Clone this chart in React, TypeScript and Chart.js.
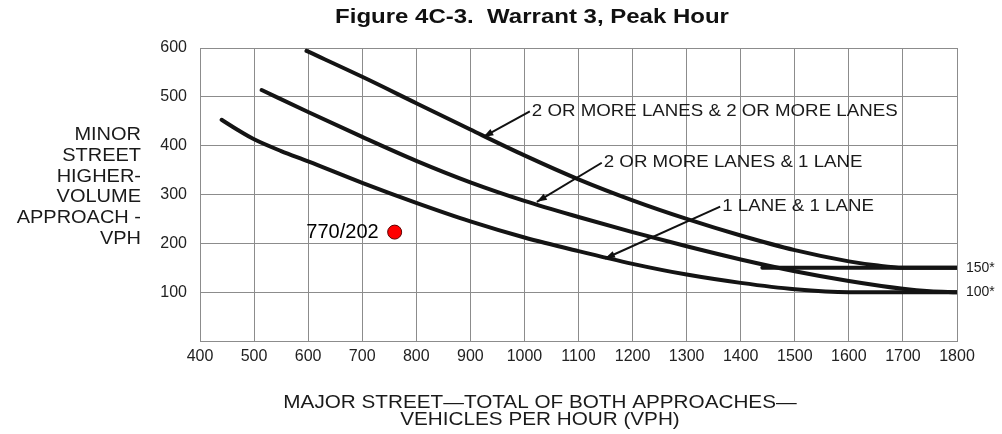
import React, { useEffect, useRef } from "react";
import { Chart, registerables } from "chart.js";

Chart.register(...registerables);

// ---------- data ----------
const titleText = "Figure 4C-3.  Warrant 3, Peak Hour";
const yTitleLines = ["MINOR", "STREET", "HIGHER-", "VOLUME", "APPROACH -", "VPH"];
const xTitleLines = ["MAJOR STREET\u2014TOTAL OF BOTH APPROACHES\u2014", "VEHICLES PER HOUR (VPH)"];

const xMin = 400;
const xMax = 1800;
const xStep = 100;
const yMin = 0;
const yMax = 600;
const yStep = 100;
const hiddenYTick = 0;

// 2 OR MORE LANES & 2 OR MORE LANES
const twoTwoX = [597, 700, 800, 900, 1000, 1100, 1200, 1300, 1400, 1500, 1600, 1650, 1700, 1800];
const twoTwoY = [594, 541, 487, 433, 380, 331, 288, 250, 216, 186, 163, 155, 150, 150];

// 2 OR MORE LANES & 1 LANE
const twoOneX = [514, 600, 700, 800, 900, 1000, 1100, 1200, 1300, 1400, 1500, 1600, 1700, 1750, 1800];
const twoOneY = [514, 469, 418, 369, 325, 287, 254, 223, 194, 167, 143, 123, 107, 102, 100];

// 1 LANE & 1 LANE
const oneOneX = [440, 470, 500, 550, 600, 700, 800, 900, 1000, 1100, 1200, 1300, 1400, 1500, 1600, 1700, 1800];
const oneOneY = [453, 432, 413, 389, 368, 324, 283, 245, 212, 184, 158, 136, 119, 106, 100, 100, 100];

// 150* lower threshold line
const floor150X = [1440, 1800];
const floor150Y = [150, 150];

// study point
const studyX = [760];
const studyY = [223];
const studyLabel = "770/202";

const curveLabels = ["2 OR MORE LANES & 2 OR MORE LANES", "2 OR MORE LANES & 1 LANE", "1 LANE & 1 LANE"];
// [tipX, tipY, tailX, tailY] in data units
const curveArrows = [
  [924, 418, 1010, 470],
  [1023, 285, 1143, 365],
  [1149, 169, 1362, 275],
];
const thresholdLabels = ["150*", "100*"];
const thresholdValues = [150, 100];

const FONT = "'Liberation Sans', Arial, Helvetica, sans-serif";

function pts(xs: number[], ys: number[]) {
  return xs.map((x, i) => ({ x, y: ys[i] }));
}

function drawText(
  ctx: CanvasRenderingContext2D,
  text: string,
  x: number,
  y: number,
  font: string,
  align: CanvasTextAlign,
  sx: number,
  color = "#1a1a1a"
) {
  ctx.save();
  ctx.font = font;
  ctx.fillStyle = color;
  ctx.textAlign = align;
  ctx.textBaseline = "middle";
  ctx.translate(x, y);
  ctx.scale(sx, 1);
  ctx.fillText(text, 0, 0);
  ctx.restore();
}

const annotationPlugin = {
  id: "figureAnnotations",
  afterDraw(chart: any) {
    const ctx: CanvasRenderingContext2D = chart.ctx;
    const xs = chart.scales.x;
    const ys = chart.scales.y;
    const area = chart.chartArea;

    // title
    drawText(ctx, titleText, 532, 17, `bold 20px ${FONT}`, "center", 1.2, "#111");

    // y title
    const yTop = 135;
    yTitleLines.forEach((t, i) => {
      drawText(ctx, t, 141, yTop + i * 20.8, `18px ${FONT}`, "right", 1.11);
    });

    // x title
    xTitleLines.forEach((t, i) => {
      drawText(ctx, t, 540, 403 + i * 17.5, `18px ${FONT}`, "center", 1.15);
    });

    // curve labels + arrows
    curveArrows.forEach((a, i) => {
      const tx = xs.getPixelForValue(a[0]);
      const ty = ys.getPixelForValue(a[1]);
      const sx = xs.getPixelForValue(a[2]);
      const sy = ys.getPixelForValue(a[3]);
      ctx.save();
      ctx.strokeStyle = "#111";
      ctx.fillStyle = "#111";
      ctx.lineWidth = 2;
      ctx.beginPath();
      ctx.moveTo(sx, sy);
      ctx.lineTo(tx, ty);
      ctx.stroke();
      const ang = Math.atan2(ty - sy, tx - sx);
      const len = 10;
      const hw = 3.5;
      ctx.beginPath();
      ctx.moveTo(tx, ty);
      ctx.lineTo(tx - len * Math.cos(ang) + hw * Math.sin(ang), ty - len * Math.sin(ang) - hw * Math.cos(ang));
      ctx.lineTo(tx - len * Math.cos(ang) - hw * Math.sin(ang), ty - len * Math.sin(ang) + hw * Math.cos(ang));
      ctx.closePath();
      ctx.fill();
      ctx.restore();
      drawText(ctx, curveLabels[i], sx + 2, sy, `17px ${FONT}`, "left", 1.1);
    });

    // threshold labels
    thresholdLabels.forEach((t, i) => {
      drawText(ctx, t, area.right + 9, ys.getPixelForValue(thresholdValues[i]), `14px ${FONT}`, "left", 1.0);
    });

    // study point label
    const px = xs.getPixelForValue(studyX[0]);
    const py = ys.getPixelForValue(studyY[0]);
    drawText(ctx, studyLabel, px - 16, py, `20px ${FONT}`, "right", 1.0, "#000");
  },
};

export default function App() {
  const ref = useRef<HTMLCanvasElement | null>(null);

  useEffect(() => {
    if (!ref.current) return;
    const curveStyle = {
      borderColor: "#141414",
      borderWidth: 4,
      pointRadius: 0,
      fill: false,
      cubicInterpolationMode: "monotone" as const,
      borderCapStyle: "round" as const,
      borderJoinStyle: "round" as const,
    };
    const chart = new Chart(ref.current, {
      type: "line",
      data: {
        datasets: [
          { label: curveLabels[0], data: pts(twoTwoX, twoTwoY), ...curveStyle },
          { label: curveLabels[1], data: pts(twoOneX, twoOneY), ...curveStyle },
          { label: curveLabels[2], data: pts(oneOneX, oneOneY), ...curveStyle },
          { label: "150*", data: pts(floor150X, floor150Y), ...curveStyle },
          {
            label: studyLabel,
            data: pts(studyX, studyY),
            showLine: false,
            pointRadius: 7,
            pointBackgroundColor: "#ff0000",
            pointBorderColor: "#5a0000",
            pointBorderWidth: 1,
          },
        ],
      },
      options: {
        responsive: false,
        animation: false,
        devicePixelRatio: 1,
        layout: { padding: { left: 0, top: 48, right: 45, bottom: 0 } },
        plugins: {
          legend: { display: false },
          tooltip: { enabled: false },
          title: { display: false },
        },
        scales: {
          x: {
            type: "linear",
            min: xMin,
            max: xMax,
            afterFit: (s: any) => {
              s.height = 93;
            },
            ticks: {
              stepSize: xStep,
              padding: 6,
              color: "#222",
              font: { family: FONT, size: 16 },
              callback: (v: any) => String(v),
              maxRotation: 0,
              autoSkip: false,
            },
            grid: { color: "#8c8c8c", lineWidth: 1, drawTicks: false },
            border: { color: "#8c8c8c", width: 1 },
          },
          y: {
            type: "linear",
            min: yMin,
            max: yMax,
            afterFit: (s: any) => {
              s.width = 200;
            },
            ticks: {
              stepSize: yStep,
              padding: 13,
              color: "#222",
              font: { family: FONT, size: 16 },
              callback: (v: any) => (v === hiddenYTick ? "" : String(v)),
            },
            grid: { color: "#8c8c8c", lineWidth: 1, drawTicks: false },
            border: { color: "#8c8c8c", width: 1 },
          },
        },
      },
      plugins: [annotationPlugin],
    } as any);
    return () => chart.destroy();
  }, []);

  return (
    <div style={{ position: "fixed", left: 0, top: 0, width: 1002, height: 434, background: "#fff" }}>
      <canvas ref={ref} width={1002} height={434} style={{ display: "block" }} />
    </div>
  );
}
